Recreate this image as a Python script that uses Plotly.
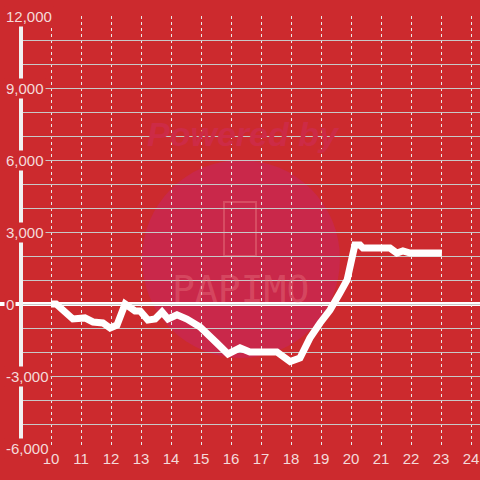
import plotly.graph_objects as go

hours = [10.0, 10.17, 10.73, 11.13, 11.4, 11.73, 11.97, 12.2, 12.47, 12.8, 12.97, 13.23, 13.47,
         13.7, 13.9, 14.2, 14.53, 14.97, 15.53, 15.9, 16.3, 16.63, 17.53, 17.97, 18.3, 18.63,
         18.97, 19.3, 19.63, 19.87, 20.13, 20.3, 20.4, 21.3, 21.53, 21.73, 21.97, 23.03]
values = [0, 0, -625, -580, -750, -790, -1000, -875, 0, -290, -290, -670, -620,
          -330, -625, -450, -625, -960, -1630, -2080, -1830, -2000, -2000, -2400, -2250, -1420,
          -790, -250, 460, 1000, 2460, 2460, 2330, 2330, 2125, 2210, 2125, 2125]

x_ticks = list(range(10, 25))
y_label_vals = [12000, 9000, 6000, 3000, 0, -3000, -6000]
y_label_text = ["12,000", "9,000", "6,000", "3,000", "0", "-3,000", "-6,000"]

BG = "#CC2A2E"
LABEL = "#F4DADA"

fig = go.Figure()
fig.add_trace(go.Scatter(x=hours, y=values, mode="lines",
                         line=dict(color="white", width=7, shape="linear"),
                         hoverinfo="skip", showlegend=False))

W, L = 480 - 21, 21
def px2paper(px):
    return (px - L) / W
def py2paper(py):
    return (448 - py) / 432

shapes = [
    # watermark circle
    dict(type="circle", xref="paper", yref="paper", layer="below",
         x0=px2paper(142), x1=px2paper(340), y0=py2paper(358), y1=py2paper(160),
         fillcolor="#C9284A", line=dict(width=0)),
    # phone icon
    dict(type="rect", xref="paper", yref="paper", layer="below",
         x0=px2paper(224), x1=px2paper(256), y0=py2paper(256), y1=py2paper(202),
         fillcolor="rgba(0,0,0,0)", line=dict(color="rgba(225,100,115,0.6)", width=2)),
    # zero line
    dict(type="line", xref="paper", yref="y", x0=px2paper(0), x1=1, y0=0, y1=0,
         line=dict(color="white", width=4), layer="below"),
    # left axis line
    dict(type="line", xref="paper", yref="y", x0=0, x1=0, y0=11670, y1=-5670,
         line=dict(color="#F2F2F2", width=4), layer="above"),
]

annotations = [
    dict(text="<b><i>Powered by</i></b>", xref="paper", yref="paper",
         x=px2paper(243), y=py2paper(134), yanchor="middle", showarrow=False,
         font=dict(size=34, color="#CD2B46", family="Liberation Sans")),
    dict(text="PAPIMO", xref="paper", yref="paper",
         x=px2paper(240), y=py2paper(289), showarrow=False,
         font=dict(size=38, color="rgba(235,120,130,0.4)", family="DejaVu Sans Mono")),
]
for v, t in zip(y_label_vals, y_label_text):
    annotations.append(dict(text=t, xref="paper", yref="y", x=px2paper(4), y=v,
                            xanchor="left", yanchor="middle", showarrow=False,
                            bgcolor=BG, borderpad=1,
                            font=dict(size=15, color=LABEL, family="Liberation Sans")))

fig.update_layout(
    width=480, height=480,
    margin=dict(l=21, r=0, t=16, b=32),
    paper_bgcolor=BG, plot_bgcolor="rgba(0,0,0,0)",
    shapes=shapes, annotations=annotations,
    xaxis=dict(range=[9, 24.3], tickvals=x_ticks, ticktext=[str(v) for v in x_ticks],
               showgrid=True, gridcolor="#E8E8E8", gridwidth=1, griddash="3px,3px",
               zeroline=False, showline=False, ticks="", ticklen=0, automargin=False,
               tickfont=dict(size=15, color=LABEL, family="Liberation Sans"),
               fixedrange=True),
    yaxis=dict(range=[-6000, 12000], dtick=1000, tick0=0,
               showgrid=True, gridcolor="#C8C8C8", gridwidth=1.3,
               zeroline=False, showline=False, showticklabels=False, ticks="",
               automargin=False, fixedrange=True),
    showlegend=False,
)

fig.write_html("out.html", config={"displayModeBar": False},
               post_script="document.body.style.margin='0';document.body.style.overflow='hidden';")
